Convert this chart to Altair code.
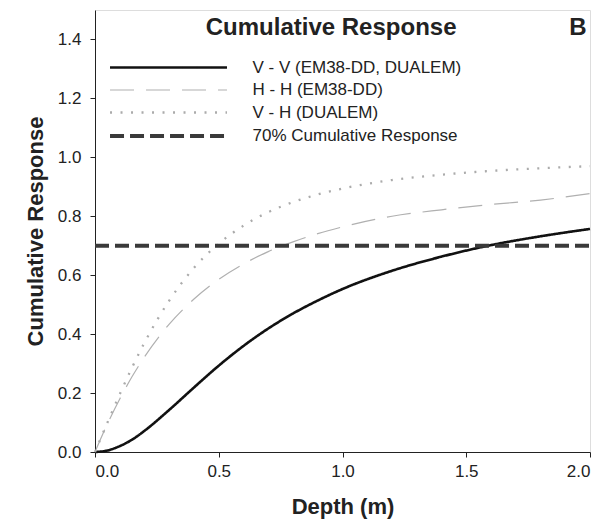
import altair as alt
import pandas as pd

depth = [0.0, 0.05, 0.1, 0.15, 0.2, 0.3, 0.4, 0.5, 0.6, 0.7, 0.8, 0.9, 1.0, 1.2, 1.4, 1.6, 1.8, 2.0]
vv = [0.0, 0.005, 0.02, 0.042, 0.072, 0.143, 0.219, 0.293, 0.36, 0.419, 0.47, 0.514, 0.553, 0.615, 0.663, 0.702, 0.732, 0.757]
hh = [0.0, 0.095, 0.18, 0.256, 0.323, 0.434, 0.519, 0.586, 0.638, 0.68, 0.713, 0.741, 0.764, 0.8, 0.822, 0.84, 0.855, 0.877]
vh = [0.0, 0.0995, 0.196, 0.287, 0.371, 0.514, 0.625, 0.707, 0.768, 0.814, 0.848, 0.874, 0.894, 0.923, 0.941, 0.954, 0.963, 0.970]
ref_depth = [0.0, 2.0]
ref_value = [0.7, 0.7]

names = ["V - V (EM38-DD, DUALEM)", "H - H (EM38-DD)", "V - H (DUALEM)", "70% Cumulative Response"]

rows = []
for d, v in zip(depth, vv):
    rows.append({"depth": d, "value": v, "series": names[0]})
for d, v in zip(depth, hh):
    rows.append({"depth": d, "value": v, "series": names[1]})
for d, v in zip(depth, vh):
    rows.append({"depth": d, "value": v, "series": names[2]})
for d, v in zip(ref_depth, ref_value):
    rows.append({"depth": d, "value": v, "series": names[3]})
df = pd.DataFrame(rows)

FONT = "Liberation Sans"
INK = "#222222"

legend_opts = dict(title=None, orient="none", legendX=63.5, legendY=48, padding=0,
                   symbolType="M-7.31,0H7.31", symbolSize=256, labelFontSize=17,
                   labelFont=FONT, labelColor=INK, labelOffset=74, labelLimit=400,
                   rowPadding=5)

lines = alt.Chart(df).mark_line(interpolate="monotone", strokeCap="butt").encode(
    x=alt.X("depth:Q", scale=alt.Scale(domain=[0, 2], nice=False),
            axis=alt.Axis(values=[0, 0.5, 1.0, 1.5, 2.0], format=".1f", title="Depth (m)",
                          grid=False, tickSize=5, labelPadding=6, titlePadding=17,
                          labelFontSize=17, titleFontSize=22, titleFontWeight="bold",
                          domainColor=INK, tickColor=INK, labelColor=INK, titleColor=INK,
                          labelFont=FONT, titleFont=FONT)),
    y=alt.Y("value:Q", scale=alt.Scale(domain=[0, 1.5], nice=False),
            axis=alt.Axis(values=[0, 0.2, 0.4, 0.6, 0.8, 1.0, 1.2, 1.4], format=".1f",
                          title="Cumulative Response", grid=False, tickSize=5, labelPadding=9,
                          titlePadding=10, labelFontSize=17, titleFontSize=22, titleFontWeight="bold",
                          domainColor=INK, tickColor=INK, labelColor=INK, titleColor=INK,
                          labelFont=FONT, titleFont=FONT)),
    color=alt.Color("series:N", scale=alt.Scale(domain=names, range=["#111111", "#b0b0b0", "#ababab", "#3a3a3a"]),
                    legend=alt.Legend(**legend_opts)),
    strokeDash=alt.StrokeDash("series:N", scale=alt.Scale(domain=names, range=[[1, 0], [24, 12], [2, 8.5], [14, 6]]),
                              legend=alt.Legend(**legend_opts)),
    strokeWidth=alt.StrokeWidth("series:N", scale=alt.Scale(type="ordinal", domain=names, range=[2.6, 1.2, 2.3, 4]),
                                legend=alt.Legend(**legend_opts)),
)

title_df = pd.DataFrame({"depth": [0.954], "value": [1.415], "label": ["Cumulative Response"]})
title_text = alt.Chart(title_df).mark_text(font=FONT, fontSize=24, fontWeight="bold", color=INK,
                                           baseline="alphabetic", align="center").encode(
    x="depth:Q", y="value:Q", text="label:N")

b_df = pd.DataFrame({"depth": [1.951], "value": [1.415], "label": ["B"]})
b_text = alt.Chart(b_df).mark_text(font=FONT, fontSize=24, fontWeight="bold", color=INK,
                                   baseline="alphabetic", align="center").encode(
    x="depth:Q", y="value:Q", text="label:N")

chart = alt.layer(lines, title_text, b_text).properties(
    width=495, height=442,
    autosize=alt.AutoSizeParams(type="none"),
    padding={"left": 87, "top": 2, "right": 10, "bottom": 68},
).configure_view(stroke=INK, strokeWidth=1.2).configure(background="white")

chart.save("out.html", embed_options={"renderer": "svg", "actions": False})
